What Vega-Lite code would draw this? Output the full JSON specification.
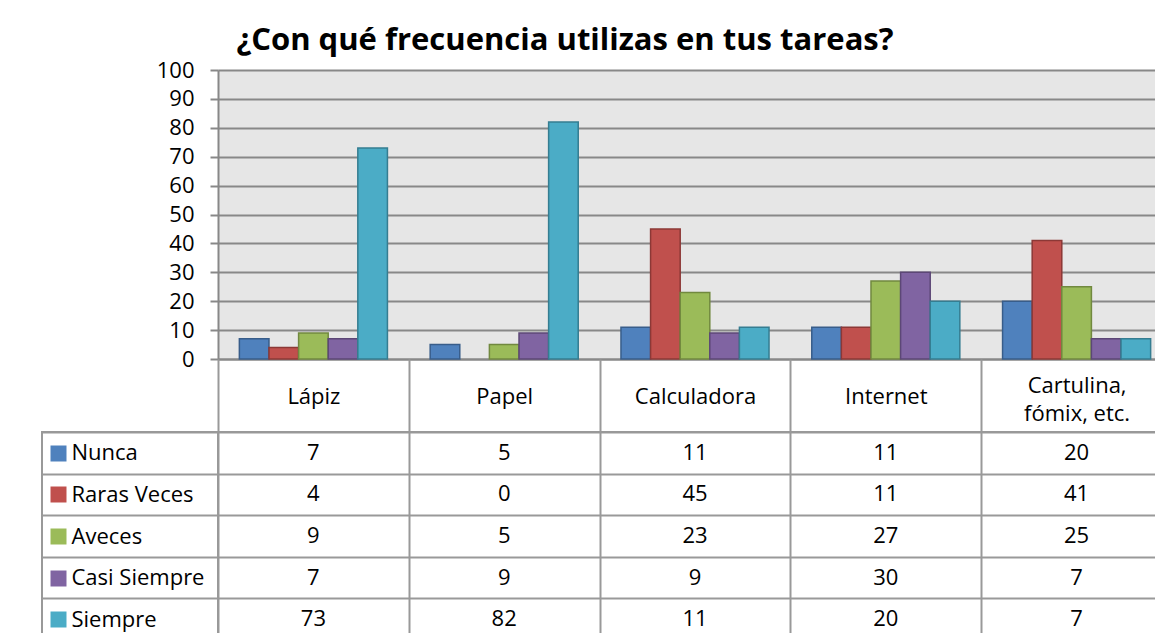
{
  "$schema": "https://vega.github.io/schema/vega-lite/v6.json",
  "padding": {"left": 40, "top": 25, "right": 0, "bottom": 0},
  "background": "white",
  "title": {
    "text": "¿Con qué frecuencia utilizas en tus tareas?",
    "font": "Open Sans",
    "fontSize": 31,
    "fontWeight": "bold",
    "color": "black",
    "anchor": "middle",
    "dx": -42,
    "offset": 2
  },
  "datasets": {
    "freq": [
      {"categoria": "Lápiz", "serie": "Nunca", "valor": 7},
      {"categoria": "Lápiz", "serie": "Raras Veces", "valor": 4},
      {"categoria": "Lápiz", "serie": "Aveces", "valor": 9},
      {"categoria": "Lápiz", "serie": "Casi Siempre", "valor": 7},
      {"categoria": "Lápiz", "serie": "Siempre", "valor": 73},
      {"categoria": "Papel", "serie": "Nunca", "valor": 5},
      {"categoria": "Papel", "serie": "Raras Veces", "valor": 0},
      {"categoria": "Papel", "serie": "Aveces", "valor": 5},
      {"categoria": "Papel", "serie": "Casi Siempre", "valor": 9},
      {"categoria": "Papel", "serie": "Siempre", "valor": 82},
      {"categoria": "Calculadora", "serie": "Nunca", "valor": 11},
      {"categoria": "Calculadora", "serie": "Raras Veces", "valor": 45},
      {"categoria": "Calculadora", "serie": "Aveces", "valor": 23},
      {"categoria": "Calculadora", "serie": "Casi Siempre", "valor": 9},
      {"categoria": "Calculadora", "serie": "Siempre", "valor": 11},
      {"categoria": "Internet", "serie": "Nunca", "valor": 11},
      {"categoria": "Internet", "serie": "Raras Veces", "valor": 11},
      {"categoria": "Internet", "serie": "Aveces", "valor": 27},
      {"categoria": "Internet", "serie": "Casi Siempre", "valor": 30},
      {"categoria": "Internet", "serie": "Siempre", "valor": 20},
      {"categoria": "Cartulina, fómix, etc.", "serie": "Nunca", "valor": 20},
      {"categoria": "Cartulina, fómix, etc.", "serie": "Raras Veces", "valor": 41},
      {"categoria": "Cartulina, fómix, etc.", "serie": "Aveces", "valor": 25},
      {"categoria": "Cartulina, fómix, etc.", "serie": "Casi Siempre", "valor": 7},
      {"categoria": "Cartulina, fómix, etc.", "serie": "Siempre", "valor": 7}
    ]
  },
  "columns": 2,
  "align": "each",
  "bounds": "flush",
  "spacing": {"row": 73, "column": 0},
  "concat": [
    {
      "width": 176,
      "height": 289,
      "data": {"name": "freq"},
      "mark": {"type": "point", "opacity": 0},
      "encoding": {},
      "view": {"stroke": null}
    },
    {
      "width": 954,
      "height": 289,
      "data": {"name": "freq"},
      "transform": [{"filter": "datum.valor > 0"}],
      "mark": {"type": "bar", "strokeWidth": 1.5},
      "view": {"fill": "#e6e6e6", "stroke": null},
      "encoding": {
        "x": {
          "field": "categoria",
          "type": "nominal",
          "sort": ["Lápiz", "Papel", "Calculadora", "Internet", "Cartulina, fómix, etc."],
          "scale": {"paddingInner": 0.224, "paddingOuter": 0.112},
          "axis": {"labels": false, "ticks": false, "title": null, "domain": true, "domainColor": "#888888", "domainWidth": 2}
        },
        "xOffset": {
          "field": "serie",
          "sort": ["Nunca", "Raras Veces", "Aveces", "Casi Siempre", "Siempre"],
          "scale": {"domain": ["Nunca", "Raras Veces", "Aveces", "Casi Siempre", "Siempre"], "paddingInner": 0, "paddingOuter": 0}
        },
        "y": {
          "field": "valor",
          "type": "quantitative",
          "scale": {"domain": [0, 100], "nice": false},
          "axis": {
            "title": null,
            "values": [0, 10, 20, 30, 40, 50, 60, 70, 80, 90, 100],
            "grid": true,
            "gridColor": "#888888",
            "gridWidth": 2,
            "gridOpacity": 1,
            "domain": true,
            "domainColor": "#888888",
            "domainWidth": 2,
            "tickColor": "#888888",
            "tickSize": 8,
            "tickWidth": 2,
            "labelFont": "Open Sans",
            "labelFontSize": 22,
            "labelColor": "black",
            "labelPadding": 16
          }
        },
        "color": {
          "field": "serie",
          "type": "nominal",
          "scale": {
            "domain": ["Nunca", "Raras Veces", "Aveces", "Casi Siempre", "Siempre"],
            "range": ["#4F81BD", "#C0504D", "#9BBB59", "#8064A2", "#4BACC6"]
          },
          "legend": null
        },
        "stroke": {
          "field": "serie",
          "type": "nominal",
          "scale": {
            "domain": ["Nunca", "Raras Veces", "Aveces", "Casi Siempre", "Siempre"],
            "range": ["#385D8A", "#8C3836", "#71893F", "#5C4776", "#357D91"]
          },
          "legend": null
        }
      }
    },
    {
      "width": 176,
      "height": 208,
      "data": {"name": "freq"},
      "mark": {"type": "point", "opacity": 0},
      "view": {"stroke": "#999999", "strokeWidth": 2},
      "encoding": {
        "y": {
          "field": "serie",
          "type": "nominal",
          "sort": ["Nunca", "Raras Veces", "Aveces", "Casi Siempre", "Siempre"],
          "scale": {"paddingInner": 0, "paddingOuter": 0},
          "axis": {
            "title": null,
            "orient": "left",
            "offset": -24,
            "domain": false,
            "grid": false,
            "tickSize": 16,
            "tickWidth": 16,
            "tickColor": {
              "condition": [
                {"test": "datum.value === 'Nunca'", "value": "#4F81BD"},
                {"test": "datum.value === 'Raras Veces'", "value": "#C0504D"},
                {"test": "datum.value === 'Aveces'", "value": "#9BBB59"},
                {"test": "datum.value === 'Casi Siempre'", "value": "#8064A2"}
              ],
              "value": "#4BACC6"
            },
            "labelAlign": "left",
            "labelPadding": -21,
            "labelFont": "Open Sans",
            "labelFontSize": 22,
            "labelColor": "black",
            "labelLimit": 300,
            "labelOverlap": false
          }
        }
      }
    },
    {
      "width": 954,
      "height": 208,
      "data": {"name": "freq"},
      "mark": {"type": "text", "font": "Open Sans", "fontSize": 22, "color": "black"},
      "view": {"stroke": "#999999", "strokeWidth": 2},
      "encoding": {
        "x": {
          "field": "categoria",
          "type": "nominal",
          "sort": ["Lápiz", "Papel", "Calculadora", "Internet", "Cartulina, fómix, etc."],
          "scale": {"paddingInner": 0, "paddingOuter": 0},
          "axis": {
            "orient": "top",
            "title": null,
            "tickBand": "extent",
            "tickSize": 73,
            "tickWidth": 2,
            "tickColor": "#999999",
            "domain": false,
            "grid": true,
            "gridColor": "#999999",
            "gridWidth": 2,
            "gridOpacity": 1,
            "labelAngle": 0,
            "labelFont": "Open Sans",
            "labelFontSize": 22,
            "labelColor": "black",
            "labelBaseline": "middle",
            "labelPadding": {
              "condition": {"test": "datum.value === 'Cartulina, fómix, etc.'", "value": -26},
              "value": -37
            },
            "labelLineHeight": 28,
            "labelLimit": 300,
            "labelExpr": "datum.value === 'Cartulina, fómix, etc.' ? ['Cartulina,', 'fómix, etc.'] : datum.value"
          }
        },
        "y": {
          "field": "serie",
          "type": "nominal",
          "sort": ["Nunca", "Raras Veces", "Aveces", "Casi Siempre", "Siempre"],
          "scale": {"paddingInner": 0, "paddingOuter": 0},
          "axis": {
            "title": null,
            "labels": false,
            "tickBand": "extent",
            "tickSize": 176,
            "tickWidth": 2,
            "tickColor": "#999999",
            "domain": false,
            "grid": true,
            "gridColor": "#999999",
            "gridWidth": 2,
            "gridOpacity": 1
          }
        },
        "text": {"field": "valor", "type": "quantitative"}
      }
    }
  ]
}
